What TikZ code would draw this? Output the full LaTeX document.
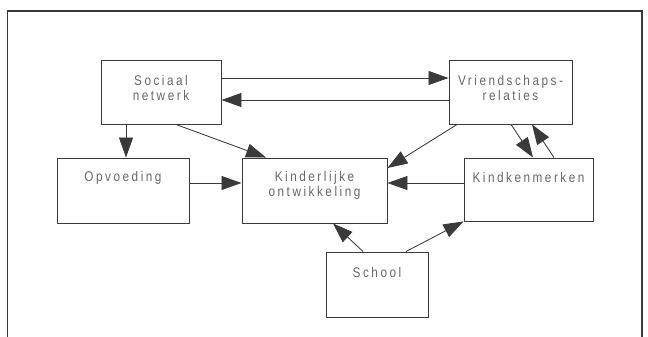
\documentclass[tikz,border=0pt]{standalone}
\usepackage{fontspec}
\setmainfont{Liberation Sans}
\newfontfamily\boxfont[FakeStretch=0.84,LetterSpace=18]{Liberation Sans}
\usetikzlibrary{arrows.meta}
\definecolor{linec}{HTML}{3A3A3A}
\definecolor{textc}{HTML}{666666}
\tikzset{
  box/.style={draw=linec, line width=0.95pt, rectangle, inner sep=0pt},
  lab/.style={font=\boxfont\fontsize{14}{14.5}\selectfont, text=textc, align=center, anchor=north, inner sep=0pt},
  arr/.style={draw=linec, line width=0.85pt, -{Triangle[length=20pt,width=14pt]}},
}
\begin{document}
\begin{tikzpicture}[x=1pt,y=-1pt]
\useasboundingbox (0,0) rectangle (648,337);
\begin{scope}
\clip (0,0) rectangle (648,337);
\draw[linec, line width=1.8pt] (7.5,11) rectangle (642,360);
\end{scope}
% boxes
\node[box, minimum width=120pt, minimum height=64pt] (soc) at (161,92) {};
\node[box, minimum width=123pt, minimum height=64pt] (vri) at (510.5,92) {};
\node[box, minimum width=132pt, minimum height=65pt] (opv) at (123,190.5) {};
\node[box, minimum width=145pt, minimum height=65pt] (kin) at (314.5,190.5) {};
\node[box, minimum width=129pt, minimum height=63pt] (kdk) at (528.5,189.5) {};
\node[box, minimum width=102pt, minimum height=65pt] (sch) at (377,284.5) {};
% labels
\node[lab] (socl) at ([yshift=-16pt]soc.north) {Sociaal\\netwerk};
\node[lab] (vril) at ([yshift=-16pt]vri.north) {Vriendschaps-\\relaties};
\node[lab] (opvl) at ([yshift=-14pt]opv.north) {Opvoeding};
\node[lab] (kinl) at ([yshift=-14pt]kin.north) {Kinderlijke\\ontwikkeling};
\node[lab] (kdkl) at ([yshift=-15pt]kdk.north) {Kindkenmerken};
\node[lab] (schl) at ([yshift=-16pt]sch.north) {School};
% connectors
\draw[arr] (soc.east |- 0,78) -- (vri.west |- 0,78);
\draw[arr] (vri.west |- 0,100) -- (soc.east |- 0,100);
\draw[arr] (soc.south -| 126,0) -- (opv.north -| 126,0);
\draw[arr] (soc.south -| 176,0) -- (kin.north -| 266,0);
\draw[arr] (vri.south -| 457,0) -- (kin.east |- 0,168);
\draw[arr] (opv.east |- 0,183) -- (kin.west |- 0,183);
\draw[arr] (kdk.west |- 0,183) -- (kin.east |- 0,183);
\draw[arr] (vri.south -| 511,0) -- (kdk.north -| 533,0);
\draw[arr] (kdk.north -| 554,0) -- (vri.south -| 532,0);
\draw[arr] (sch.north -| 363,0) -- (kin.south -| 333,0);
\draw[arr] (sch.north -| 406,0) -- (kdk.south west);
\end{tikzpicture}
\end{document}
